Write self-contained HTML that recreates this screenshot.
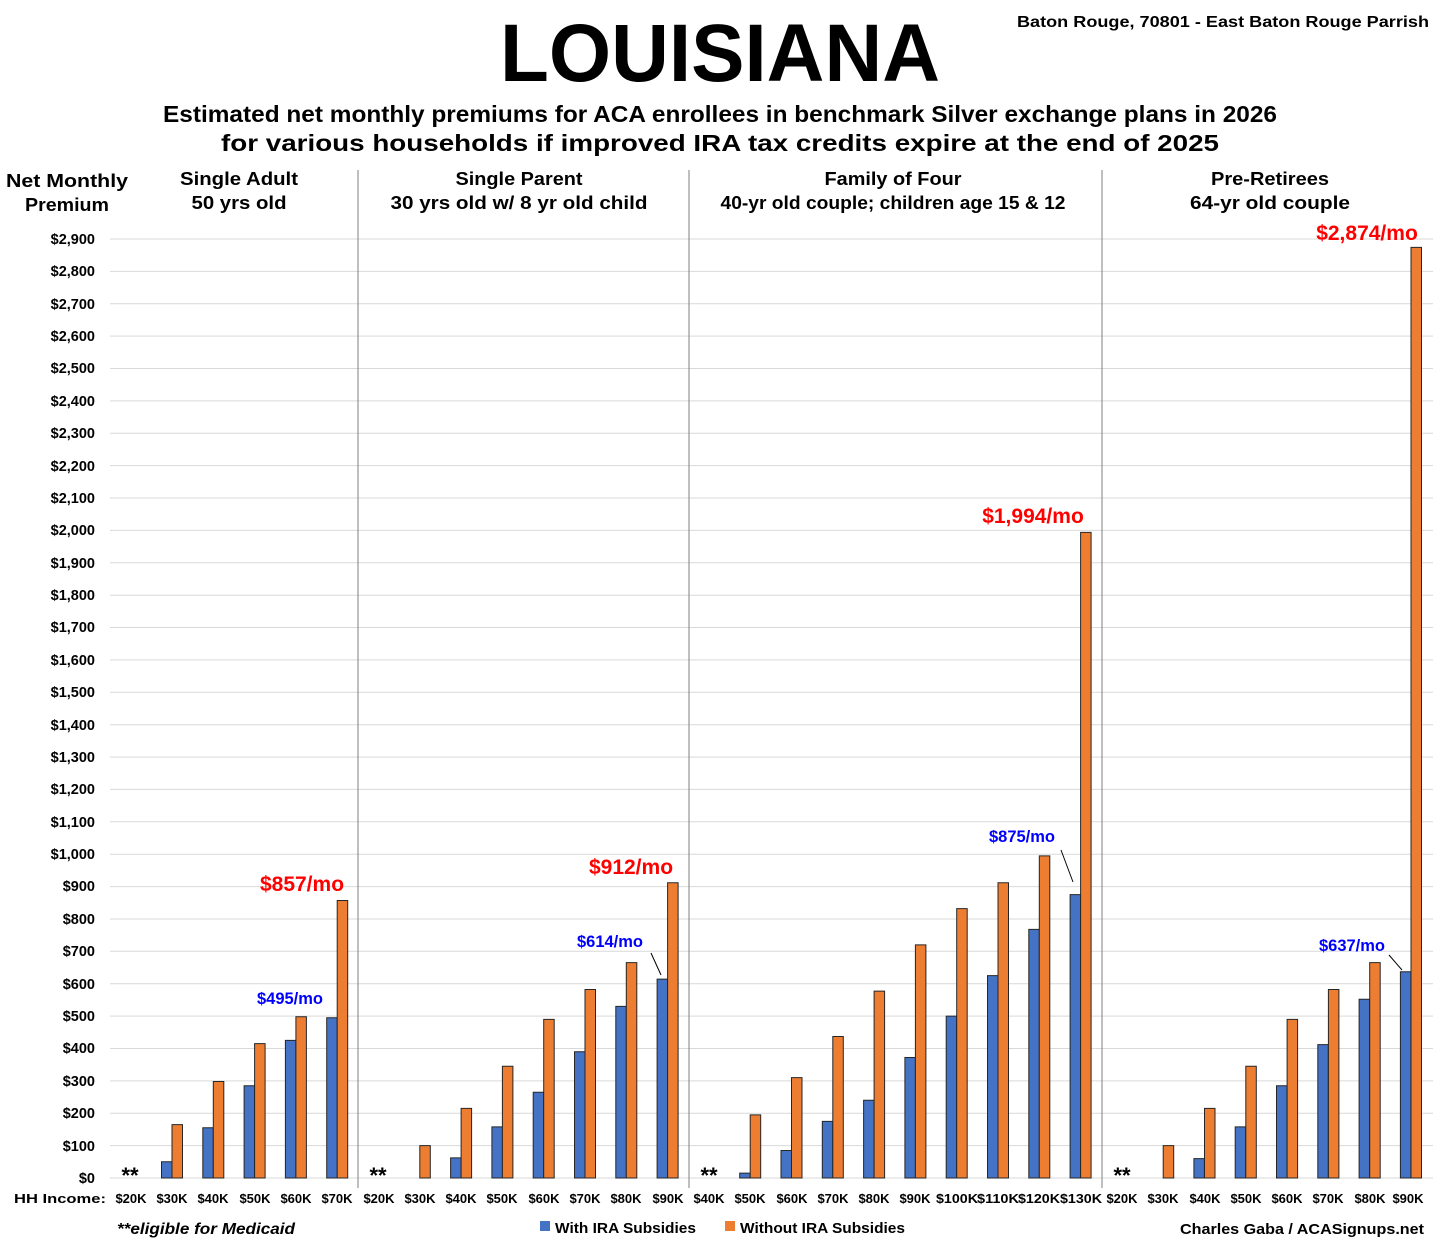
<!DOCTYPE html>
<html><head><meta charset="utf-8"><style>
html,body{margin:0;padding:0;background:#fff}
svg{display:block}
text{font-family:"Liberation Sans",sans-serif;font-weight:bold}
</style></head><body>
<svg width="1441" height="1250" viewBox="0 0 1441 1250" xmlns="http://www.w3.org/2000/svg">
<rect width="1441" height="1250" fill="#fff"/>
<text x="720" y="81" font-size="82" text-anchor="middle" textLength="440" lengthAdjust="spacingAndGlyphs">LOUISIANA</text>
<text x="1429" y="27" font-size="16" text-anchor="end" textLength="412" lengthAdjust="spacingAndGlyphs">Baton Rouge, 70801 - East Baton Rouge Parrish</text>
<text x="720" y="122" font-size="23" text-anchor="middle" textLength="1114" lengthAdjust="spacingAndGlyphs">Estimated net monthly premiums for ACA enrollees in benchmark Silver exchange plans in 2026</text>
<text x="720" y="151" font-size="23" text-anchor="middle" textLength="998" lengthAdjust="spacingAndGlyphs">for various households if improved IRA tax credits expire at the end of 2025</text>
<text x="67" y="187" font-size="18" text-anchor="middle" textLength="122" lengthAdjust="spacingAndGlyphs">Net Monthly</text>
<text x="67" y="211" font-size="18" text-anchor="middle" textLength="84" lengthAdjust="spacingAndGlyphs">Premium</text>
<g font-size="18" text-anchor="middle">
<text x="239" y="185" textLength="118" lengthAdjust="spacingAndGlyphs">Single Adult</text>
<text x="239" y="209" textLength="95" lengthAdjust="spacingAndGlyphs">50 yrs old</text>
<text x="519" y="185" textLength="127" lengthAdjust="spacingAndGlyphs">Single Parent</text>
<text x="519" y="209" textLength="257" lengthAdjust="spacingAndGlyphs">30 yrs old w/ 8 yr old child</text>
<text x="893" y="185" textLength="137" lengthAdjust="spacingAndGlyphs">Family of Four</text>
<text x="893" y="209" textLength="345" lengthAdjust="spacingAndGlyphs">40-yr old couple; children age 15 &amp; 12</text>
<text x="1270" y="185" textLength="118" lengthAdjust="spacingAndGlyphs">Pre-Retirees</text>
<text x="1270" y="209" textLength="160" lengthAdjust="spacingAndGlyphs">64-yr old couple</text>
</g>
<g stroke="#d9d9d9" stroke-width="1">
<line x1="110" x2="1433" y1="1145.6" y2="1145.6"/><line x1="110" x2="1433" y1="1113.2" y2="1113.2"/><line x1="110" x2="1433" y1="1080.9" y2="1080.9"/><line x1="110" x2="1433" y1="1048.5" y2="1048.5"/><line x1="110" x2="1433" y1="1016.1" y2="1016.1"/><line x1="110" x2="1433" y1="983.7" y2="983.7"/><line x1="110" x2="1433" y1="951.3" y2="951.3"/><line x1="110" x2="1433" y1="919.0" y2="919.0"/><line x1="110" x2="1433" y1="886.6" y2="886.6"/><line x1="110" x2="1433" y1="854.2" y2="854.2"/><line x1="110" x2="1433" y1="821.8" y2="821.8"/><line x1="110" x2="1433" y1="789.4" y2="789.4"/><line x1="110" x2="1433" y1="757.1" y2="757.1"/><line x1="110" x2="1433" y1="724.7" y2="724.7"/><line x1="110" x2="1433" y1="692.3" y2="692.3"/><line x1="110" x2="1433" y1="659.9" y2="659.9"/><line x1="110" x2="1433" y1="627.5" y2="627.5"/><line x1="110" x2="1433" y1="595.2" y2="595.2"/><line x1="110" x2="1433" y1="562.8" y2="562.8"/><line x1="110" x2="1433" y1="530.4" y2="530.4"/><line x1="110" x2="1433" y1="498.0" y2="498.0"/><line x1="110" x2="1433" y1="465.6" y2="465.6"/><line x1="110" x2="1433" y1="433.3" y2="433.3"/><line x1="110" x2="1433" y1="400.9" y2="400.9"/><line x1="110" x2="1433" y1="368.5" y2="368.5"/><line x1="110" x2="1433" y1="336.1" y2="336.1"/><line x1="110" x2="1433" y1="303.7" y2="303.7"/><line x1="110" x2="1433" y1="271.4" y2="271.4"/><line x1="110" x2="1433" y1="239.0" y2="239.0"/>
<line x1="110" x2="1433" y1="1178" y2="1178"/>
</g>
<g font-size="14.5" text-anchor="end">
<text x="95" y="1183">$0</text><text x="95" y="1151">$100</text><text x="95" y="1118">$200</text><text x="95" y="1086">$300</text><text x="95" y="1053">$400</text><text x="95" y="1021">$500</text><text x="95" y="989">$600</text><text x="95" y="956">$700</text><text x="95" y="924">$800</text><text x="95" y="891">$900</text><text x="95" y="859">$1,000</text><text x="95" y="827">$1,100</text><text x="95" y="794">$1,200</text><text x="95" y="762">$1,300</text><text x="95" y="730">$1,400</text><text x="95" y="697">$1,500</text><text x="95" y="665">$1,600</text><text x="95" y="632">$1,700</text><text x="95" y="600">$1,800</text><text x="95" y="568">$1,900</text><text x="95" y="535">$2,000</text><text x="95" y="503">$2,100</text><text x="95" y="471">$2,200</text><text x="95" y="438">$2,300</text><text x="95" y="406">$2,400</text><text x="95" y="373">$2,500</text><text x="95" y="341">$2,600</text><text x="95" y="309">$2,700</text><text x="95" y="276">$2,800</text><text x="95" y="244">$2,900</text>
</g>
<g stroke="#7f7f7f" stroke-width="1">
<line x1="358" x2="358" y1="170" y2="1188"/>
<line x1="689" x2="689" y1="170" y2="1188"/>
<line x1="1102" x2="1102" y1="170" y2="1188"/>
</g>
<g transform="translate(0,1178) scale(1,-0.3238)" stroke="#262626" stroke-width="1">
<g fill="#4472C4">
<rect vector-effect="non-scaling-stroke" x="161.5" y="0" width="10.5" height="50"/>
<rect vector-effect="non-scaling-stroke" x="202.8" y="0" width="10.5" height="155"/>
<rect vector-effect="non-scaling-stroke" x="244.1" y="0" width="10.5" height="285"/>
<rect vector-effect="non-scaling-stroke" x="285.4" y="0" width="10.5" height="425"/>
<rect vector-effect="non-scaling-stroke" x="326.7" y="0" width="10.5" height="495"/>
<rect vector-effect="non-scaling-stroke" x="450.6" y="0" width="10.5" height="62"/>
<rect vector-effect="non-scaling-stroke" x="491.9" y="0" width="10.5" height="158"/>
<rect vector-effect="non-scaling-stroke" x="533.2" y="0" width="10.5" height="265"/>
<rect vector-effect="non-scaling-stroke" x="574.5" y="0" width="10.5" height="390"/>
<rect vector-effect="non-scaling-stroke" x="615.8" y="0" width="10.5" height="530"/>
<rect vector-effect="non-scaling-stroke" x="657.1" y="0" width="10.5" height="614"/>
<rect vector-effect="non-scaling-stroke" x="739.7" y="0" width="10.5" height="15"/>
<rect vector-effect="non-scaling-stroke" x="781.0" y="0" width="10.5" height="85"/>
<rect vector-effect="non-scaling-stroke" x="822.3" y="0" width="10.5" height="175"/>
<rect vector-effect="non-scaling-stroke" x="863.6" y="0" width="10.5" height="240"/>
<rect vector-effect="non-scaling-stroke" x="904.9" y="0" width="10.5" height="372"/>
<rect vector-effect="non-scaling-stroke" x="946.2" y="0" width="10.5" height="500"/>
<rect vector-effect="non-scaling-stroke" x="987.5" y="0" width="10.5" height="625"/>
<rect vector-effect="non-scaling-stroke" x="1028.8" y="0" width="10.5" height="768"/>
<rect vector-effect="non-scaling-stroke" x="1070.1" y="0" width="10.5" height="875"/>
<rect vector-effect="non-scaling-stroke" x="1193.9" y="0" width="10.5" height="60"/>
<rect vector-effect="non-scaling-stroke" x="1235.2" y="0" width="10.5" height="158"/>
<rect vector-effect="non-scaling-stroke" x="1276.5" y="0" width="10.5" height="285"/>
<rect vector-effect="non-scaling-stroke" x="1317.8" y="0" width="10.5" height="412"/>
<rect vector-effect="non-scaling-stroke" x="1359.1" y="0" width="10.5" height="552"/>
<rect vector-effect="non-scaling-stroke" x="1400.4" y="0" width="10.5" height="637"/>
</g>
<g fill="#ED7D31">
<rect vector-effect="non-scaling-stroke" x="172.0" y="0" width="10.5" height="165"/>
<rect vector-effect="non-scaling-stroke" x="213.3" y="0" width="10.5" height="298"/>
<rect vector-effect="non-scaling-stroke" x="254.6" y="0" width="10.5" height="415"/>
<rect vector-effect="non-scaling-stroke" x="295.9" y="0" width="10.5" height="498"/>
<rect vector-effect="non-scaling-stroke" x="337.2" y="0" width="10.5" height="857"/>
<rect vector-effect="non-scaling-stroke" x="419.8" y="0" width="10.5" height="100"/>
<rect vector-effect="non-scaling-stroke" x="461.1" y="0" width="10.5" height="215"/>
<rect vector-effect="non-scaling-stroke" x="502.4" y="0" width="10.5" height="345"/>
<rect vector-effect="non-scaling-stroke" x="543.7" y="0" width="10.5" height="490"/>
<rect vector-effect="non-scaling-stroke" x="585.0" y="0" width="10.5" height="582"/>
<rect vector-effect="non-scaling-stroke" x="626.3" y="0" width="10.5" height="665"/>
<rect vector-effect="non-scaling-stroke" x="667.6" y="0" width="10.5" height="912"/>
<rect vector-effect="non-scaling-stroke" x="750.2" y="0" width="10.5" height="195"/>
<rect vector-effect="non-scaling-stroke" x="791.5" y="0" width="10.5" height="310"/>
<rect vector-effect="non-scaling-stroke" x="832.8" y="0" width="10.5" height="437"/>
<rect vector-effect="non-scaling-stroke" x="874.1" y="0" width="10.5" height="577"/>
<rect vector-effect="non-scaling-stroke" x="915.4" y="0" width="10.5" height="720"/>
<rect vector-effect="non-scaling-stroke" x="956.7" y="0" width="10.5" height="832"/>
<rect vector-effect="non-scaling-stroke" x="998.0" y="0" width="10.5" height="912"/>
<rect vector-effect="non-scaling-stroke" x="1039.3" y="0" width="10.5" height="995"/>
<rect vector-effect="non-scaling-stroke" x="1080.6" y="0" width="10.5" height="1994"/>
<rect vector-effect="non-scaling-stroke" x="1163.2" y="0" width="10.5" height="100"/>
<rect vector-effect="non-scaling-stroke" x="1204.5" y="0" width="10.5" height="215"/>
<rect vector-effect="non-scaling-stroke" x="1245.8" y="0" width="10.5" height="345"/>
<rect vector-effect="non-scaling-stroke" x="1287.1" y="0" width="10.5" height="490"/>
<rect vector-effect="non-scaling-stroke" x="1328.4" y="0" width="10.5" height="582"/>
<rect vector-effect="non-scaling-stroke" x="1369.7" y="0" width="10.5" height="665"/>
<rect vector-effect="non-scaling-stroke" x="1411.0" y="0" width="10.5" height="2874"/>
</g>
</g>
<g font-size="22" text-anchor="middle">
<text x="130" y="1183">**</text><text x="378" y="1183">**</text><text x="709" y="1183">**</text><text x="1122" y="1183">**</text>
</g>
<g font-size="21" text-anchor="middle" style="fill:#ff0000">
<text x="302" y="891">$857/mo</text>
<text x="631" y="874">$912/mo</text>
<text x="1033" y="523">$1,994/mo</text>
<text x="1367" y="240">$2,874/mo</text>
</g>
<g font-size="16.5" text-anchor="middle" style="fill:#0000ff">
<text x="290" y="1004">$495/mo</text>
<text x="610" y="947">$614/mo</text>
<text x="1022" y="842">$875/mo</text>
<text x="1352" y="951">$637/mo</text>
</g>
<g stroke="#000" stroke-width="1">
<line x1="651" y1="953" x2="661" y2="975"/>
<line x1="1061" y1="850" x2="1073" y2="882"/>
<line x1="1389" y1="955" x2="1402" y2="970"/>
</g>
<g font-size="13" text-anchor="middle">
<text x="60" y="1203" textLength="92" lengthAdjust="spacingAndGlyphs">HH Income:</text>
<text x="131" y="1203">$20K</text><text x="172" y="1203">$30K</text><text x="213" y="1203">$40K</text><text x="255" y="1203">$50K</text><text x="296" y="1203">$60K</text><text x="337" y="1203">$70K</text>
<text x="379" y="1203">$20K</text><text x="420" y="1203">$30K</text><text x="461" y="1203">$40K</text><text x="502" y="1203">$50K</text><text x="544" y="1203">$60K</text><text x="585" y="1203">$70K</text><text x="626" y="1203">$80K</text><text x="668" y="1203">$90K</text>
<text x="709" y="1203">$40K</text><text x="750" y="1203">$50K</text><text x="792" y="1203">$60K</text><text x="833" y="1203">$70K</text><text x="874" y="1203">$80K</text><text x="915" y="1203">$90K</text><text x="957" y="1203" textLength="42" lengthAdjust="spacingAndGlyphs">$100K</text><text x="998" y="1203" textLength="42" lengthAdjust="spacingAndGlyphs">$110K</text><text x="1039" y="1203" textLength="42" lengthAdjust="spacingAndGlyphs">$120K</text><text x="1081" y="1203" textLength="42" lengthAdjust="spacingAndGlyphs">$130K</text>
<text x="1122" y="1203">$20K</text><text x="1163" y="1203">$30K</text><text x="1205" y="1203">$40K</text><text x="1246" y="1203">$50K</text><text x="1287" y="1203">$60K</text><text x="1328" y="1203">$70K</text><text x="1370" y="1203">$80K</text><text x="1408" y="1203">$90K</text>
</g>
<text x="117" y="1234" font-size="16" font-style="italic" textLength="178" lengthAdjust="spacingAndGlyphs">**eligible for Medicaid</text>
<rect x="540" y="1221" width="10" height="10" fill="#4472C4"/>
<text x="555" y="1233" font-size="15" textLength="141" lengthAdjust="spacingAndGlyphs">With IRA Subsidies</text>
<rect x="725" y="1221" width="10" height="10" fill="#ED7D31"/>
<text x="740" y="1233" font-size="15" textLength="165" lengthAdjust="spacingAndGlyphs">Without IRA Subsidies</text>
<text x="1424" y="1234" font-size="15" text-anchor="end" textLength="244" lengthAdjust="spacingAndGlyphs">Charles Gaba / ACASignups.net</text>
</svg>
</body></html>
